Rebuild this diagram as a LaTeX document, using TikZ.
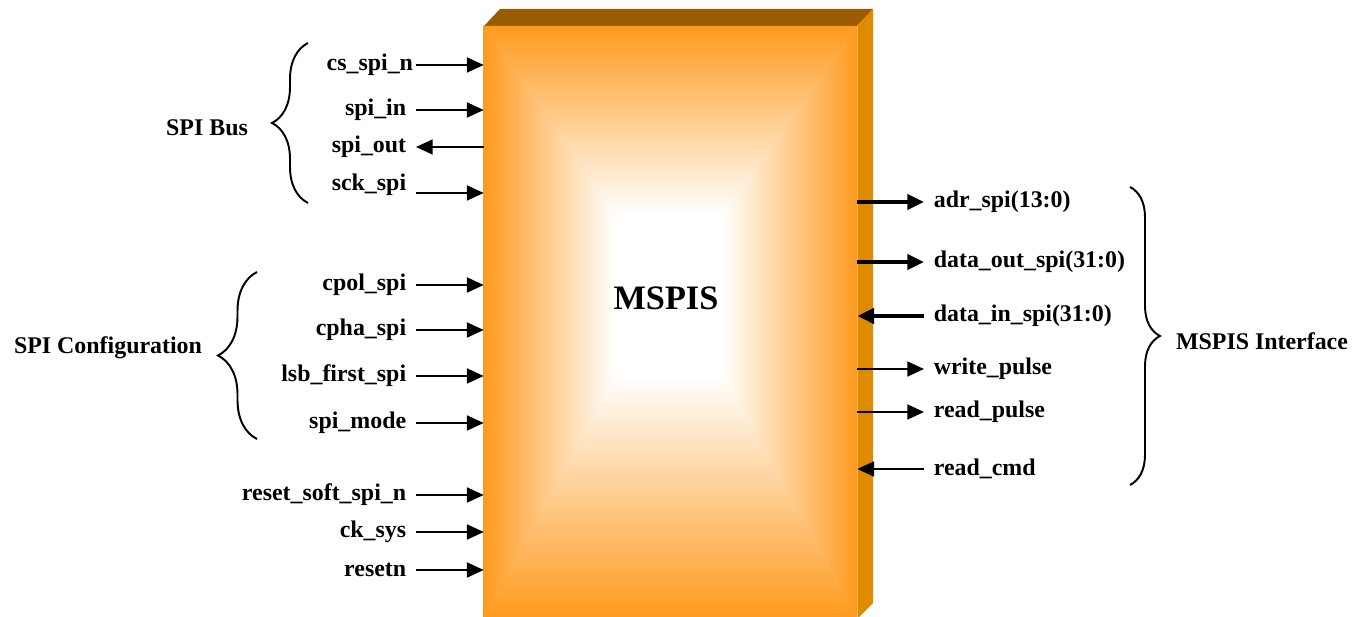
\documentclass[tikz,border=0pt]{standalone}
\usepackage{fontspec}
\setmainfont{Liberation Serif}
\usetikzlibrary{arrows.meta,positioning,calc,decorations.pathreplacing}
\def\portsep{0.19cm}
\def\tipsize{9.5pt}
\definecolor{tangerine}{HTML}{FF9A1F}
\definecolor{umber}{HTML}{995C00}
\definecolor{amber}{HTML}{E08A00}
\definecolor{glint}{HTML}{FFB552}

\begin{document}
\begin{tikzpicture}[x=0.02cm, y=-0.02cm, font=\fontsize{13.6}{16}\selectfont\bfseries,
    myarrow/.style={-{Triangle[length=\tipsize,width=8.5pt]}, line width=1.1pt},
    mybus/.style={myarrow, line width=2.8pt}]
    \tikzstyle{port}=[inner xsep=\portsep, inner ysep=0pt]
    \tikzstyle{in port}=[port, anchor=east]
    \tikzstyle{out port}=[port, anchor=west]
    \tikzstyle{group}=[text centered, inner sep=0pt]
    \tikzstyle{mybrace}=[decorate, line width=1.1pt]
    \useasboundingbox (0,0) rectangle (1353,617);

    % Draw the block
    \fill[umber] (484,26) -- (500,9) -- (873,9) -- (857,26) -- cycle;
    \fill[amber] (857,26) -- (873,9) -- (873,603) -- (857,619) -- cycle;
    \fill[tangerine!45!white] (484,26) rectangle (857,617);
    \shade[top color=tangerine, bottom color=white] (484,26) -- (857,26) -- (722,215) -- (615,215) -- cycle;
    \shade[bottom color=tangerine, top color=white] (484,617) -- (857,617) -- (722,375) -- (615,375) -- cycle;
    \shade[left color=tangerine, right color=white] (484,26) -- (615,215) -- (615,375) -- (484,617) -- cycle;
    \shade[right color=tangerine, left color=white] (857,26) -- (722,215) -- (722,375) -- (857,617) -- cycle;
    \fill[white] (615,215) rectangle (722,375);
    \draw[tangerine, line width=1pt] (484,26) -- (484,617);
    \draw[glint, line width=0.5pt] (857,26) -- (857,617);
    \node[minimum width=7.46cm, minimum height=11.82cm, inner sep=0pt] (mspis) at (670.5,321.5) {};
    \node[font=\fontsize{19.5}{22}\selectfont\bfseries] (title) at (666,298) {MSPIS};

    % Draw the ports
    \node[in port, inner xsep=1.5pt] (cs) at (416,65) {cs\_spi\_n};
    \node[in port, yshift=0.16cm] (sck) at (416,193) {sck\_spi};
    \foreach \name/\txt/\y in {spiin/{spi\_in}/110, spiout/{spi\_out}/147,
            cpol/{cpol\_spi}/285, cpha/{cpha\_spi}/330, lsb/{lsb\_first\_spi}/376,
            mode/{spi\_mode}/423, rstsoft/{reset\_soft\_spi\_n}/495,
            ck/{ck\_sys}/532, rstn/{resetn}/570}
        \node[in port] (\name) at (416,\y) {\txt};

    \foreach \name/\txt/\y in {adr/{adr\_spi(13:0)}/202, dout/{data\_out\_spi(31:0)}/262,
            din/{data\_in\_spi(31:0)}/316, wr/{write\_pulse}/369,
            rd/{read\_pulse}/412, cmd/{read\_cmd}/469}
        \node[out port] (\name) at (924,\y) {\txt};

    % Connect every port
    \foreach \name in {cs,spiin,cpol,cpha,lsb,mode,rstsoft,ck,rstn}
        \draw[myarrow] (\name.east) -- (\name.east -| mspis.west);
    \draw[myarrow] ([yshift=-0.16cm]sck.east) -- ([yshift=-0.16cm]sck.east -| mspis.west);
    \draw[myarrow] (spiout.east -| mspis.west) -- (spiout.east);

    \foreach \name in {adr,dout}
        \draw[mybus] (mspis.east |- \name.west) -- (\name.west);
    \draw[mybus] (din.west) -- (mspis.east |- din.west);
    \foreach \name in {wr,rd}
        \draw[myarrow] (mspis.east |- \name.west) -- (\name.west);
    \draw[myarrow] (cmd.west) -- (mspis.east |- cmd.west);

    % Annotate the groups
    \coordinate (bus-top) at (308,43);
    \coordinate (bus-bot) at (308,203);
    \coordinate (cfg-top) at (257,272);
    \coordinate (cfg-bot) at (257,439);
    \coordinate (itf-top) at (1130,187);
    \coordinate (itf-bot) at (1130,485);
    \draw[mybrace, decoration={brace,amplitude=0.72cm}] (bus-bot) -- (bus-top);
    \draw[mybrace, decoration={brace,amplitude=0.78cm}] (cfg-bot) -- (cfg-top);
    \draw[mybrace, decoration={brace,amplitude=0.6cm}] (itf-top) -- (itf-bot);
    \node[group] (bus) at (207,128) {SPI Bus};
    \node[group] (cfg) at (108,348) {SPI Configuration};
    \node[group] (itf) at (1262,341) {MSPIS Interface};
\end{tikzpicture}
\end{document}
